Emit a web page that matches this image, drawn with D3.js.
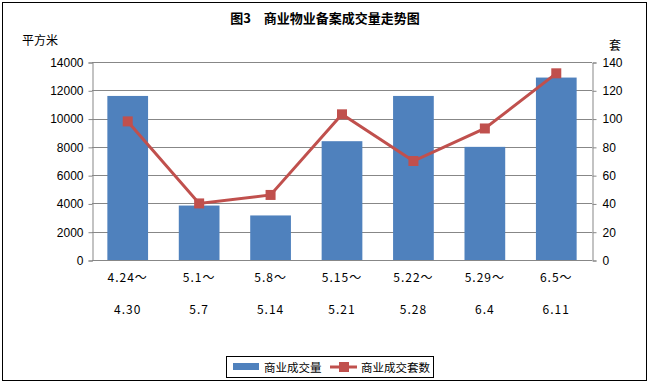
<!DOCTYPE html>
<html>
<head>
<meta charset="utf-8">
<script src="https://cdn.jsdelivr.net/npm/d3@7"></script>
<style>
  body { margin: 0; background: #fff; }
  #chart { width: 650px; height: 383px; }
  text { font-family: "Noto Sans CJK SC", "DejaVu Sans", sans-serif; }
</style>
</head>
<body>
<div id="chart"></div>
<script>
const periodsTop = ["4.24～", "5.1～", "5.8～", "5.15～", "5.22～", "5.29～", "6.5～"];
const periodsBottom = ["4.30", "5.7", "5.14", "5.21", "5.28", "6.4", "6.11"];
const areaValues = [11600, 3850, 3150, 8400, 11600, 8000, 12900];
const unitValues = [98, 40, 46, 103, 70, 93, 132];
const leftTicks = [0, 2000, 4000, 6000, 8000, 10000, 12000, 14000];
const rightTicks = [0, 20, 40, 60, 80, 100, 120, 140];

const width = 650, height = 383;
const margin = { left: 92, right: 58, top: 62, bottom: 123 };

const svg = d3.select("#chart").append("svg")
    .attr("width", width)
    .attr("height", height);

// frame
svg.append("rect")
    .attr("x", 2.5).attr("y", 2.5)
    .attr("width", 644).attr("height", 378)
    .attr("fill", "#fff")
    .attr("stroke", "#000");

const xScale = d3.scaleBand()
    .domain(d3.range(periodsTop.length))
    .range([margin.left, width - margin.right])
    .paddingInner(0.43)
    .paddingOuter(0.215);

const yLeft = d3.scaleLinear().domain([0, 14000]).range([height - margin.bottom, margin.top]);
const yRight = d3.scaleLinear().domain([0, 140]).range([height - margin.bottom, margin.top]);

// gridlines
svg.append("g")
    .selectAll("line")
    .data(leftTicks.slice(1))
    .enter()
    .append("line")
    .attr("x1", margin.left)
    .attr("x2", width - margin.right)
    .attr("y1", d => Math.round(yLeft(d)) + 0.5)
    .attr("y2", d => Math.round(yLeft(d)) + 0.5)
    .style("stroke", "#878787");

// bars
svg.append("g")
    .selectAll("rect")
    .data(areaValues)
    .enter()
    .append("rect")
    .attr("x", (d, i) => xScale(i))
    .attr("width", xScale.bandwidth())
    .attr("y", d => yLeft(d))
    .attr("height", d => yLeft(0) - yLeft(d))
    .attr("fill", "#4F81BD");

// axes
const leftAxis = svg.append("g")
    .attr("transform", `translate(${margin.left + 0.5},0.5)`)
    .call(d3.axisLeft(yLeft).tickValues(leftTicks).tickSize(4).tickPadding(5).tickFormat(d => d));
const rightAxis = svg.append("g")
    .attr("transform", `translate(${width - margin.right + 0.5},0.5)`)
    .call(d3.axisRight(yRight).tickValues(rightTicks).tickSize(4).tickPadding(6).tickFormat(d => d));

[leftAxis, rightAxis].forEach(g => {
    g.select(".domain").attr("stroke", "#878787");
    g.selectAll(".tick line").attr("stroke", "#878787");
    g.selectAll("text")
        .style("font-size", "12px")
        .style("fill", "#000")
        .style("font-family", "'Liberation Sans', sans-serif");
});

// x baseline
svg.append("line")
    .attr("x1", margin.left)
    .attr("x2", width - margin.right)
    .attr("y1", Math.round(yLeft(0)) + 0.5)
    .attr("y2", Math.round(yLeft(0)) + 0.5)
    .style("stroke", "#878787");

// x labels
const xLabels = svg.append("g");
xLabels.selectAll(".top")
    .data(periodsTop)
    .enter()
    .append("text")
    .attr("x", (d, i) => xScale(i) + xScale.bandwidth() / 2)
    .attr("y", 282)
    .attr("text-anchor", "middle")
    .style("font-size", "12px")
    .style("letter-spacing", "1px")
    .text(d => d);
xLabels.selectAll(".bottom")
    .data(periodsBottom)
    .enter()
    .append("text")
    .attr("x", (d, i) => xScale(i) + xScale.bandwidth() / 2)
    .attr("y", 314)
    .attr("text-anchor", "middle")
    .style("font-size", "12px")
    .style("letter-spacing", "1px")
    .text(d => d);

// line series
const lineGenerator = d3.line()
    .x((d, i) => xScale(i) + xScale.bandwidth() / 2)
    .y(d => yRight(d));

svg.append("path")
    .datum(unitValues)
    .attr("fill", "none")
    .attr("stroke", "#C0504D")
    .attr("stroke-width", 3)
    .attr("d", lineGenerator);

svg.append("g")
    .selectAll("rect")
    .data(unitValues)
    .enter()
    .append("rect")
    .attr("x", (d, i) => xScale(i) + xScale.bandwidth() / 2 - 5)
    .attr("y", d => yRight(d) - 5)
    .attr("width", 10)
    .attr("height", 10)
    .attr("fill", "#C0504D");

// titles
svg.append("text")
    .attr("x", 325)
    .attr("y", 23)
    .attr("text-anchor", "middle")
    .style("font-size", "13px")
    .style("font-weight", "bold")
    .text("图3　商业物业备案成交量走势图");

svg.append("text")
    .attr("x", 22)
    .attr("y", 45)
    .style("font-size", "12px")
    .text("平方米");

svg.append("text")
    .attr("x", 609)
    .attr("y", 50)
    .style("font-size", "12px")
    .text("套");

// legend
const legend = svg.append("g");
legend.append("rect")
    .attr("x", 226.5).attr("y", 356.5)
    .attr("width", 207).attr("height", 21)
    .attr("fill", "#fff")
    .attr("stroke", "#000");
legend.append("rect")
    .attr("x", 233).attr("y", 363)
    .attr("width", 26).attr("height", 7)
    .attr("fill", "#4F81BD");
legend.append("text")
    .attr("x", 264).attr("y", 372)
    .style("font-size", "11.5px")
    .text("商业成交量");
legend.append("line")
    .attr("x1", 330).attr("x2", 357)
    .attr("y1", 367).attr("y2", 367)
    .attr("stroke", "#C0504D")
    .attr("stroke-width", 3);
legend.append("rect")
    .attr("x", 339).attr("y", 362)
    .attr("width", 10).attr("height", 10)
    .attr("fill", "#C0504D");
legend.append("text")
    .attr("x", 361).attr("y", 372)
    .style("font-size", "11.5px")
    .text("商业成交套数");
</script>
</body>
</html>
